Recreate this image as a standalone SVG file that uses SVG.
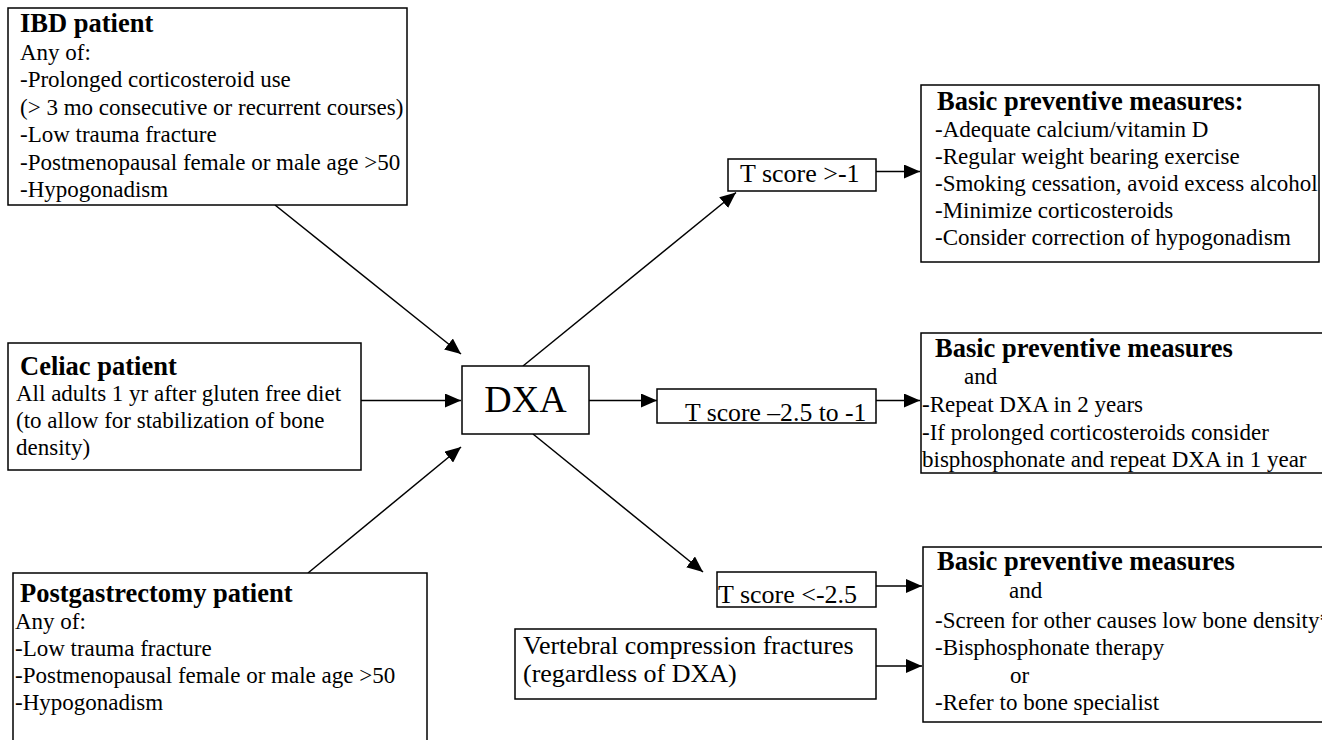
<svg xmlns="http://www.w3.org/2000/svg" width="1322" height="740" viewBox="0 0 1322 740">
<style>
.box{fill:#fff;stroke:#000;stroke-width:1.5}
.t{font-family:"Liberation Serif","Times New Roman",serif;font-size:23px;fill:#000}
.h{font-family:"Liberation Serif","Times New Roman",serif;font-size:26.5px;font-weight:bold;fill:#000}
.m{font-family:"Liberation Serif","Times New Roman",serif;font-size:26px;fill:#000}
.c{stroke:#000;stroke-width:1.5;fill:none;marker-end:url(#ah)}
</style>
<defs>
<marker id="ah" viewBox="0 0 16 14" refX="16" refY="7" markerWidth="16" markerHeight="14" markerUnits="userSpaceOnUse" orient="auto">
<path d="M0,0 L16,7 L0,14 Z" fill="#000"/>
</marker>
</defs>
<rect width="1322" height="740" fill="#fff"/>
<g id="connectors">
<line class="c" x1="275" y1="205" x2="461" y2="354"/>
<line class="c" x1="361" y1="400.5" x2="461" y2="400.5"/>
<line class="c" x1="308" y1="573" x2="461" y2="447"/>
<line class="c" x1="523" y1="366" x2="736" y2="192.5"/>
<line class="c" x1="589" y1="400.5" x2="657" y2="400.5"/>
<line class="c" x1="533" y1="434" x2="703" y2="572"/>
<line class="c" x1="876" y1="171.5" x2="920" y2="171.5"/>
<line class="c" x1="876" y1="400.5" x2="920" y2="400.5"/>
<line class="c" x1="876" y1="586" x2="922" y2="586"/>
<line class="c" x1="876" y1="666" x2="922" y2="666"/>
</g>
<g id="ibd">
<rect class="box" x="8" y="8" width="399" height="197"/>
<text class="h" x="20" y="32">IBD patient</text>
<text class="t" x="20" y="59.5">Any of:</text>
<text class="t" x="20" y="87">-Prolonged corticosteroid use</text>
<text class="t" x="20" y="114.5">(&gt; 3 mo consecutive or recurrent courses)</text>
<text class="t" x="20" y="142">-Low trauma fracture</text>
<text class="t" x="20" y="169.5">-Postmenopausal female or male age &gt;50</text>
<text class="t" x="20" y="197">-Hypogonadism</text>
</g>
<g id="celiac">
<rect class="box" x="8" y="343" width="353" height="127"/>
<text class="h" x="20" y="375">Celiac patient</text>
<text class="t" x="16" y="401">All adults 1 yr after gluten free diet</text>
<text class="t" x="16" y="428">(to allow for stabilization of bone</text>
<text class="t" x="16" y="455">density)</text>
</g>
<g id="postgastrectomy">
<rect class="box" x="13" y="573" width="414" height="180"/>
<text class="h" x="20" y="601.5">Postgastrectomy patient</text>
<text class="t" x="15" y="628.5">Any of:</text>
<text class="t" x="15" y="655.5">-Low trauma fracture</text>
<text class="t" x="15" y="682.5">-Postmenopausal female or male age &gt;50</text>
<text class="t" x="15" y="710">-Hypogonadism</text>
</g>
<g id="dxa">
<rect class="box" x="462" y="366" width="127" height="68"/>
<text x="525.5" y="411.5" text-anchor="middle" style="font-family:'Liberation Serif','Times New Roman',serif;font-size:38px">DXA</text>
</g>
<g id="tscore-high">
<rect class="box" x="728" y="159" width="148" height="32"/>
<text class="m" x="740" y="181.5">T score &gt;-1</text>
</g>
<g id="tscore-mid">
<rect class="box" x="657" y="389" width="219" height="34"/>
<text class="m" x="685" y="421" style="font-size:25.7px">T score –2.5 to -1</text>
</g>
<g id="tscore-low">
<rect class="box" x="717" y="572" width="159" height="35"/>
<text class="m" x="718" y="603">T score &lt;-2.5</text>
</g>
<g id="vertebral">
<rect class="box" x="515" y="629" width="361" height="70"/>
<text class="m" x="523" y="653.5">Vertebral compression fractures</text>
<text class="m" x="523" y="682">(regardless of DXA)</text>
</g>
<g id="basic-1">
<rect class="box" x="921" y="85" width="398" height="177"/>
<text class="h" x="937" y="110">Basic preventive measures:</text>
<text class="t" x="935" y="136.5">-Adequate calcium/vitamin D</text>
<text class="t" x="935" y="163.7">-Regular weight bearing exercise</text>
<text class="t" x="935" y="190.9">-Smoking cessation, avoid excess alcohol</text>
<text class="t" x="935" y="218.1">-Minimize corticosteroids</text>
<text class="t" x="935" y="245.3">-Consider correction of hypogonadism</text>
</g>
<g id="basic-2">
<rect class="box" x="921" y="333" width="410" height="140"/>
<text class="h" x="935" y="357">Basic preventive measures</text>
<text class="t" x="964" y="384">and</text>
<text class="t" x="922" y="411.5">-Repeat DXA in 2 years</text>
<text class="t" x="922" y="439.5">-If prolonged corticosteroids consider</text>
<text class="t" x="922" y="466.5">bisphosphonate and repeat DXA in 1 year</text>
</g>
<g id="basic-3">
<rect class="box" x="923" y="547" width="410" height="175"/>
<text class="h" x="937" y="570">Basic preventive measures</text>
<text class="t" x="1009" y="598">and</text>
<text class="t" x="935" y="627.5">-Screen for other causes low bone density*</text>
<text class="t" x="935" y="655">-Bisphosphonate therapy</text>
<text class="t" x="1010" y="683">or</text>
<text class="t" x="935" y="710">-Refer to bone specialist</text>
</g>
</svg>
